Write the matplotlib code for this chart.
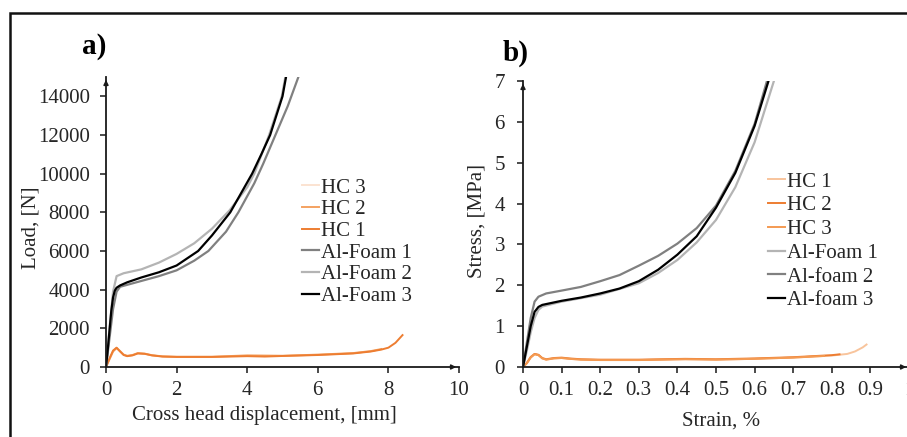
import matplotlib.pyplot as plt
from matplotlib.patches import Rectangle

plt.rcParams['font.family'] = ['Liberation Serif', 'DejaVu Serif']
plt.rcParams['font.size'] = 15

# ---- panel a) load vs cross head displacement ----
a_foam1_x = [0, 0.1, 0.2, 0.3, 0.4, 1.0, 1.5, 2.0, 2.5, 2.9, 3.4, 3.75, 4.2, 4.45, 4.8, 5.15, 5.45]
a_foam1_y = [0, 1500, 3000, 3900, 4150, 4450, 4700, 5000, 5500, 6000, 7000, 8000, 9500, 10500, 12000, 13500, 15000]
a_foam2_x = [0, 0.1, 0.2, 0.3, 0.5, 1.0, 1.5, 2.0, 2.5, 3.0, 3.5, 4.0, 4.2, 4.62, 4.98, 5.08]
a_foam2_y = [0, 2000, 3900, 4700, 4850, 5050, 5400, 5850, 6400, 7150, 8100, 9300, 10000, 12000, 14000, 15000]
a_foam3_x = [0, 0.05, 0.1, 0.15, 0.2, 0.25, 0.3, 0.4, 0.6, 1.0, 1.5, 2.0, 2.61, 3.0, 3.52, 4.14, 4.4, 4.65, 5.0, 5.1]
a_foam3_y = [0, 900, 1900, 2900, 3600, 3950, 4100, 4220, 4380, 4630, 4900, 5250, 6000, 6800, 8000, 10000, 11000, 12000, 14000, 15000]

a_hc1_x = [0, 0.1, 0.2, 0.3, 0.4, 0.5, 0.6, 0.75, 0.9, 1.1, 1.3, 1.6, 2.0, 3.0, 4.0, 4.5, 5.0, 6.0, 7.0, 7.5, 7.8, 8.0, 8.2, 8.4]
a_hc1_y = [0, 450, 850, 1000, 800, 620, 560, 600, 700, 680, 600, 540, 520, 520, 560, 540, 570, 620, 700, 800, 900, 1000, 1250, 1650]
a_hc2_x = [0, 0.1, 0.2, 0.3, 0.4, 0.5, 0.6, 0.75, 0.9, 1.1, 1.3, 1.6, 2.0, 3.0, 4.0, 5.0, 6.0, 7.0, 7.5, 7.8]
a_hc2_y = [0, 400, 800, 980, 820, 640, 580, 620, 720, 690, 610, 550, 530, 530, 600, 580, 640, 720, 820, 930]
a_hc3_x = [0, 0.1, 0.2, 0.3, 0.4, 0.5, 0.6, 0.75, 0.9, 1.1, 1.3, 1.6, 2.0, 3.0, 4.0, 5.0, 6.0, 7.0, 7.6]
a_hc3_y = [0, 420, 830, 990, 810, 630, 570, 610, 710, 685, 605, 545, 525, 525, 580, 575, 630, 710, 850]

# ---- panel b) stress vs strain ----
b_foam1_x = [0, 0.01, 0.02, 0.03, 0.04, 0.05, 0.1, 0.2, 0.3, 0.35, 0.4, 0.45, 0.5, 0.55, 0.6, 0.65]
b_foam1_y = [0, 0.4, 0.85, 1.2, 1.4, 1.48, 1.6, 1.77, 2.05, 2.3, 2.62, 3.05, 3.6, 4.4, 5.5, 7.0]
b_foam2_x = [0, 0.01, 0.02, 0.03, 0.04, 0.06, 0.1, 0.15, 0.2, 0.25, 0.3, 0.35, 0.4, 0.45, 0.5, 0.55, 0.6, 0.632]
b_foam2_y = [0, 0.6, 1.2, 1.6, 1.72, 1.8, 1.87, 1.96, 2.1, 2.25, 2.48, 2.72, 3.02, 3.4, 3.95, 4.8, 5.95, 7.0]
b_foam3_x = [0, 0.01, 0.02, 0.03, 0.04, 0.05, 0.1, 0.15, 0.2, 0.25, 0.3, 0.35, 0.4, 0.45, 0.5, 0.55, 0.6, 0.636]
b_foam3_y = [0, 0.5, 1.0, 1.35, 1.47, 1.52, 1.62, 1.7, 1.8, 1.92, 2.1, 2.38, 2.75, 3.2, 3.9, 4.75, 5.9, 7.0]

b_hc1_x = [0, 0.01, 0.02, 0.03, 0.04, 0.05, 0.06, 0.08, 0.1, 0.12, 0.15, 0.2, 0.3, 0.42, 0.5, 0.6, 0.7, 0.8, 0.84, 0.86, 0.88, 0.89]
b_hc1_y = [0, 0.1, 0.25, 0.32, 0.29, 0.21, 0.18, 0.21, 0.22, 0.2, 0.18, 0.17, 0.17, 0.19, 0.18, 0.2, 0.23, 0.28, 0.32, 0.38, 0.48, 0.55]
b_hc2_x = [0, 0.01, 0.02, 0.03, 0.04, 0.05, 0.06, 0.08, 0.1, 0.12, 0.15, 0.2, 0.3, 0.42, 0.5, 0.6, 0.7, 0.8, 0.82]
b_hc2_y = [0, 0.1, 0.24, 0.32, 0.3, 0.22, 0.19, 0.22, 0.23, 0.21, 0.19, 0.18, 0.18, 0.2, 0.19, 0.21, 0.24, 0.29, 0.31]
b_hc3_x = [0, 0.01, 0.02, 0.03, 0.04, 0.05, 0.06, 0.08, 0.1, 0.12, 0.15, 0.2, 0.3, 0.42, 0.5, 0.6, 0.7, 0.78]
b_hc3_y = [0, 0.09, 0.23, 0.31, 0.29, 0.21, 0.18, 0.21, 0.22, 0.2, 0.18, 0.17, 0.17, 0.19, 0.18, 0.2, 0.23, 0.27]

C_HC_LIGHT = '#fbe3d1'
C_HC_MID = '#f4a261'
C_HC = '#ed7d31'
C_GRAY_D = '#808080'
C_GRAY_L = '#b4b4b4'
TXT = '#262626'


def style_axes(ax, ypad):
    for s in ['top', 'right']:
        ax.spines[s].set_visible(False)
    for s in ['left', 'bottom']:
        ax.spines[s].set_linewidth(1.3)
        ax.spines[s].set_color('#1a1a1a')
    ax.tick_params(direction='out', length=4, width=1.1, colors='#1a1a1a',
                   labelcolor=TXT, labelsize=15)
    ax.tick_params(axis='x', pad=6)
    ax.tick_params(axis='y', pad=ypad)
    # arrow heads on the axes
    ax.annotate('', xy=(0, 1.0), xytext=(0, 0.97), xycoords='axes fraction',
                arrowprops=dict(arrowstyle='-|>', lw=1.1, color='#1a1a1a',
                                mutation_scale=7), annotation_clip=False)
    ax.annotate('', xy=(1.0, 0), xytext=(0.97, 0), xycoords='axes fraction',
                arrowprops=dict(arrowstyle='-|>', lw=1.1, color='#1a1a1a',
                                mutation_scale=7), annotation_clip=False)


fig = plt.figure(figsize=(9.07, 4.37), dpi=100)

# outer frame
fig.patches.append(Rectangle((10 / 907, -0.1), 1.2, 1.1 - 13 / 437, transform=fig.transFigure,
                             fill=False, lw=1.8, edgecolor='#111111'))

ax1 = fig.add_axes([106 / 907, 70 / 437, 353 / 907, 290 / 437])
ax1.plot(a_hc3_x, a_hc3_y, color=C_HC_LIGHT, lw=1.4, label='HC 3')
ax1.plot(a_hc2_x, a_hc2_y, color=C_HC_MID, lw=1.4, label='HC 2')
ax1.plot(a_hc1_x, a_hc1_y, color=C_HC, lw=1.4, label='HC 1')
ax1.plot(a_foam1_x, a_foam1_y, color=C_GRAY_D, lw=1.6, label='Al-Foam 1')
ax1.plot(a_foam2_x, a_foam2_y, color=C_GRAY_L, lw=1.6, label='Al-Foam 2')
ax1.plot(a_foam3_x, a_foam3_y, color='black', lw=1.6, label='Al-Foam 3')
ax1.set_xlim(0, 10)
ax1.set_ylim(0, 15000)
ax1.set_xticks([0, 2, 4, 6, 8, 10])
ax1.set_yticks(range(0, 14001, 2000))
style_axes(ax1, 7.5)
ax1.set_xlabel('Cross head displacement, [mm]', color=TXT, fontsize=15)
ax1.set_ylabel('Load, [N]', color=TXT, fontsize=15)
ax1.xaxis.set_label_coords(0.448, -0.135)
ax1.yaxis.set_label_coords(-0.185, 0.48)
ax1.legend(loc='upper left', bbox_to_anchor=(302 / 907, 1 - 178 / 437),
           bbox_transform=fig.transFigure, frameon=False, fontsize=15,
           handlelength=0.8, handletextpad=0.1, labelspacing=0.1,
           borderpad=0, borderaxespad=0, labelcolor=TXT)

ax2 = fig.add_axes([523 / 907, 70 / 437, 386 / 907, 286 / 437])
ax2.plot(b_hc1_x, b_hc1_y, color='#f8c49c', lw=1.4, label='HC 1')
ax2.plot(b_hc2_x, b_hc2_y, color=C_HC, lw=1.4, label='HC 2')
ax2.plot(b_hc3_x, b_hc3_y, color='#f49a52', lw=1.4, label='HC 3')
ax2.plot(b_foam1_x, b_foam1_y, color=C_GRAY_L, lw=1.6, label='Al-Foam 1')
ax2.plot(b_foam2_x, b_foam2_y, color=C_GRAY_D, lw=1.6, label='Al-foam 2')
ax2.plot(b_foam3_x, b_foam3_y, color='black', lw=1.6, label='Al-foam 3')
ax2.set_xlim(0, 1.0)
ax2.set_ylim(0, 7)
ax2.set_xticks([0, 0.1, 0.2, 0.3, 0.4, 0.5, 0.6, 0.7, 0.8, 0.9, 1.0])
ax2.set_xticklabels(['0', '0.1', '0.2', '0.3', '0.4', '0.5', '0.6', '0.7', '0.8', '0.9', '1'])
ax2.set_yticks(range(0, 8))
style_axes(ax2, 9)
ax2.set_xlabel('Strain, %', color=TXT, fontsize=15)
ax2.set_ylabel('Stress, [MPa]', color=TXT, fontsize=15)
ax2.xaxis.set_label_coords(0.512, -0.155)
ax2.yaxis.set_label_coords(-0.094, 0.51)
ax2.legend(loc='upper left', bbox_to_anchor=(768 / 907, 1 - 172 / 437),
           bbox_transform=fig.transFigure, frameon=False, fontsize=15,
           handlelength=0.8, handletextpad=0.1, labelspacing=0.2,
           borderpad=0, borderaxespad=0, labelcolor=TXT)

fig.text(94 / 907, 1 - 47 / 437, 'a)', fontsize=21, fontweight='bold',
         ha='center', va='center', color='black')
fig.text(516 / 907, 1 - 53 / 437, 'b)', fontsize=21, fontweight='bold',
         ha='center', va='center', color='black')

fig.savefig('out.png', dpi=100)
